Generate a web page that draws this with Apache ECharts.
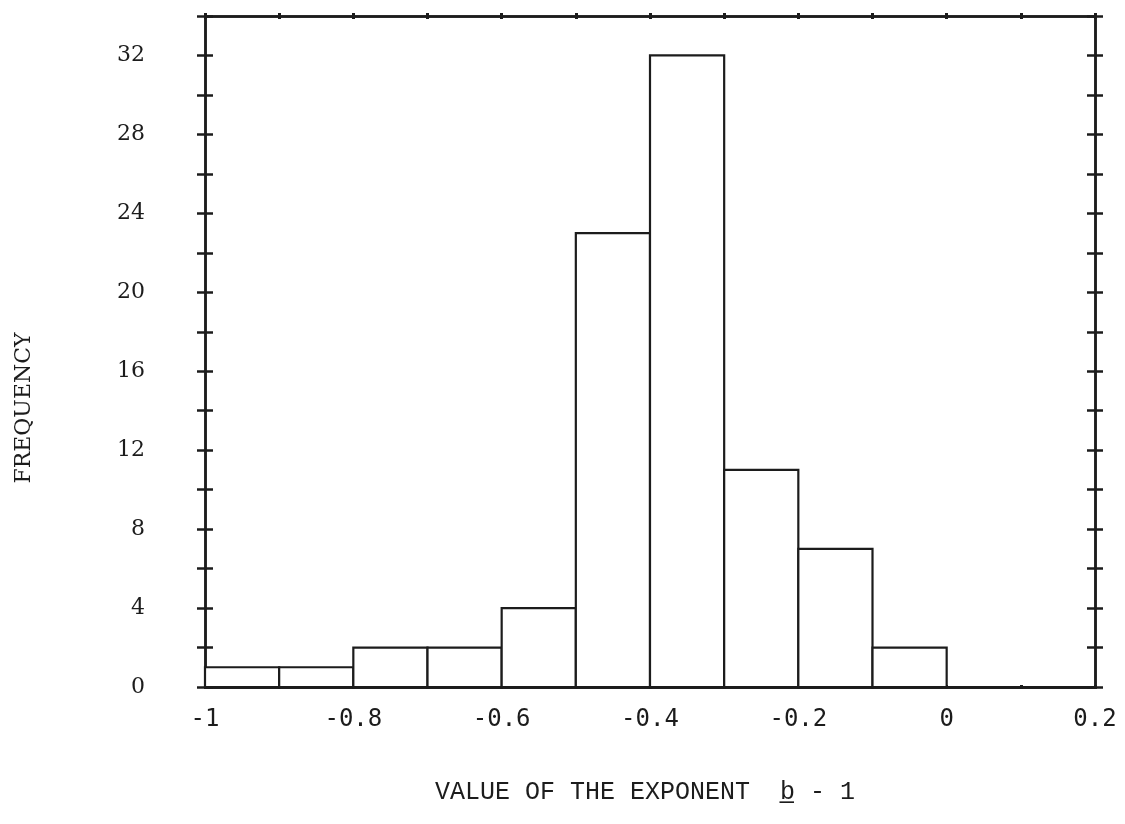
<!DOCTYPE html>
<html>
<head>
<meta charset="utf-8">
<script src="https://cdn.jsdelivr.net/npm/echarts@6/dist/echarts.min.js"></script>
<style>
  html, body { margin: 0; padding: 0; background: #fff; }
  #chart { width: 1125px; height: 824px; }
</style>
</head>
<body>
<div id="chart"></div>
<script>
// Histogram bins of the exponent (b - 1) and their frequencies
const binStart = [-1.0, -0.9, -0.8, -0.7, -0.6, -0.5, -0.4, -0.3, -0.2, -0.1, 0.0, 0.1];
const binEnd   = [-0.9, -0.8, -0.7, -0.6, -0.5, -0.4, -0.3, -0.2, -0.1, 0.0, 0.1, 0.2];
const counts   = [1, 1, 2, 2, 4, 23, 32, 11, 7, 2, 0, 0];

const xMin = -1, xMax = 0.2;
const yMin = 0, yMax = 34;
const yLabelStep = 4;

const ink = '#1c1c1c';
const monoFont = '"DejaVu Sans Mono", "Liberation Mono", monospace';
const titleFont = '"Liberation Mono", "DejaVu Sans Mono", monospace';
const serifFont = '"DejaVu Serif", "Liberation Serif", serif';

const chart = echarts.init(document.getElementById('chart'));

const frameLine = { color: ink, width: 2.5 };

function tickX(position, tickLen, inside) {
  return {
    type: 'value', position, min: xMin, max: xMax, interval: 0.1,
    axisLine: { show: true, onZero: false, lineStyle: frameLine },
    axisTick: { show: true, inside, length: tickLen, lineStyle: { color: ink, width: 3 } },
    axisLabel: { show: false }, splitLine: { show: false }
  };
}

function yAxisDef(position, inside, withLabels) {
  return {
    type: 'value', position, min: yMin, max: yMax, interval: 2,
    axisLine: { show: true, onZero: false, lineStyle: frameLine },
    axisTick: { show: true, inside, length: 8, lineStyle: { color: ink, width: 2.5 } },
    axisLabel: withLabels ? {
      show: true, margin: 60, color: ink, fontFamily: serifFont, fontSize: 22,
      formatter: v => (v % yLabelStep === 0 ? String(v) : '')
    } : { show: false },
    splitLine: { show: false }
  };
}

const option = {
  animation: false,
  backgroundColor: '#fff',
  grid: { left: 205, right: 30, top: 16, bottom: 137 },
  graphic: [{
    type: 'text',
    x: 24, y: 408, rotation: Math.PI / 2,
    style: {
      text: 'FREQUENCY', fill: ink, font: '22px ' + serifFont,
      align: 'center', verticalAlign: 'middle'
    }
  }],
  xAxis: [
    {
      type: 'value', position: 'bottom', min: xMin, max: xMax, interval: 0.2,
      name: 'VALUE OF THE EXPONENT  b\u0332 - 1',
      nameLocation: 'middle', nameGap: 93,
      nameTextStyle: { color: ink, fontFamily: titleFont, fontSize: 25, padding: [0, 10, 0, 0] },
      axisLine: { show: true, onZero: false, lineStyle: frameLine },
      axisTick: { show: false },
      axisLabel: {
        color: ink, fontFamily: monoFont, fontSize: 24, margin: 21,
        formatter: v => String(Math.round(v * 10) / 10)
      },
      splitLine: { show: false }
    },
    tickX('bottom', 2, false),
    tickX('bottom', 2, true),
    tickX('top', 3, false),
    tickX('top', 3, true)
  ],
  yAxis: [
    yAxisDef('left', false, true),
    yAxisDef('left', true, false),
    yAxisDef('right', false, false),
    yAxisDef('right', true, false)
  ],
  series: [{
    type: 'custom',
    xAxisIndex: 0, yAxisIndex: 0,
    data: counts.map((c, i) => [binStart[i], binEnd[i], c]),
    renderItem: (params, api) => {
      const p0 = api.coord([api.value(0), api.value(2)]);
      const p1 = api.coord([api.value(1), 0]);
      return {
        type: 'rect',
        shape: { x: p0[0], y: p0[1], width: p1[0] - p0[0], height: p1[1] - p0[1] },
        style: { fill: '#fff', stroke: ink, lineWidth: 2.2 }
      };
    },
    z: 1
  }]
};

chart.setOption(option);
</script>
</body>
</html>
